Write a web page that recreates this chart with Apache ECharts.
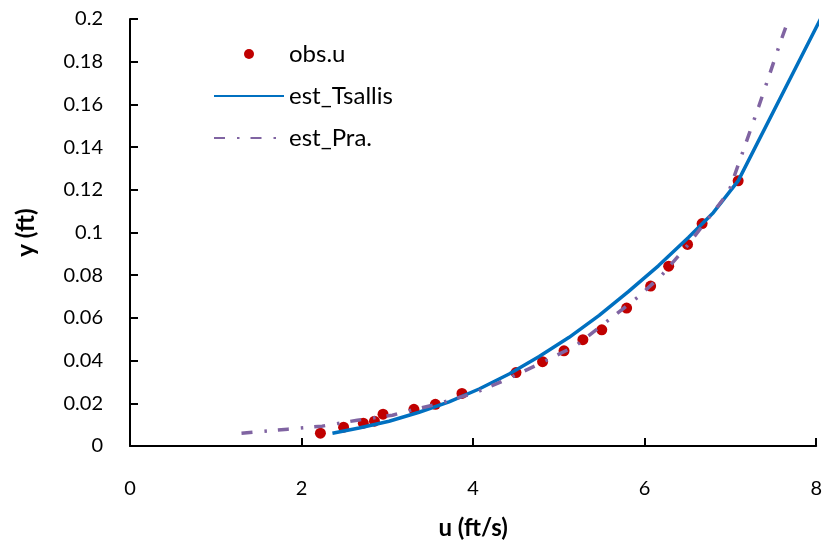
<!DOCTYPE html>
<html>
<head>
<meta charset="utf-8">
<script src="https://cdn.jsdelivr.net/npm/echarts@6/dist/echarts.min.js"></script>
<style>
  html, body { margin: 0; padding: 0; background: #fff; }
  #chart { width: 825px; height: 545px; }
</style>
</head>
<body>
<div id="chart"></div>
<script>
// Observed velocity profile: u (ft/s) against depth y (ft)
const obsU = [2.22, 2.49, 2.72, 2.85, 2.95, 3.31, 3.56, 3.87, 4.50, 4.81, 5.06, 5.28, 5.50, 5.79, 6.07, 6.28, 6.50, 6.67, 7.09];
const obsY = [0.0060, 0.0088, 0.0107, 0.0116, 0.0149, 0.0172, 0.0195, 0.0246, 0.0344, 0.0395, 0.0446, 0.0498, 0.0544, 0.0646, 0.0749, 0.0842, 0.0944, 0.1042, 0.1242];

// Tsallis entropy estimate
const tsallisU = [2.36, 2.67, 3.02, 3.37, 3.72, 4.07, 4.42, 4.77, 5.12, 5.47, 5.81, 6.16, 6.51, 6.80, 7.09, 8.05];
const tsallisY = [0.0060, 0.0084, 0.0116, 0.0158, 0.0207, 0.0267, 0.0337, 0.0419, 0.0509, 0.0612, 0.0723, 0.0844, 0.0977, 0.1093, 0.1242, 0.2000];

// Prandtl estimate
const praU = [1.30, 1.84, 2.24, 2.65, 3.06, 3.20, 3.57, 4.03, 4.38, 4.80, 5.20, 5.58, 5.93, 6.20, 6.50, 6.74, 6.98, 7.33, 7.59, 7.68];
const praY = [0.0060, 0.0079, 0.0093, 0.0121, 0.0144, 0.0160, 0.0195, 0.0250, 0.0310, 0.0390, 0.0470, 0.0590, 0.0700, 0.0800, 0.0940, 0.1065, 0.1190, 0.1590, 0.1900, 0.2000];

const xTicks = [0, 8, 2];        // min, max, step
const yTicks = [0, 0.2, 0.02];   // min, max, step

const pairs = (xs, ys) => xs.map((x, i) => [x, ys[i]]);

const FONT = 'Lato, "Open Sans", sans-serif';

const chart = echarts.init(document.getElementById('chart'), null, { renderer: 'canvas' });

chart.setOption({
  animation: false,
  backgroundColor: '#ffffff',
  textStyle: { fontFamily: FONT },
  grid: { left: 130, right: 7, top: 19, bottom: 96, containLabel: false },
  legend: {
    orient: 'vertical',
    left: 208,
    top: 37,
    itemWidth: 70,
    itemHeight: 10,
    itemGap: 18,
    textStyle: { fontFamily: FONT, fontSize: 24, color: '#000' },
    data: [
      { name: 'obs.u' },
      { name: 'est_Tsallis', itemStyle: { opacity: 0 } },
      { name: 'est_Pra.', itemStyle: { opacity: 0 } }
    ]
  },
  xAxis: {
    type: 'value',
    min: xTicks[0], max: xTicks[1], interval: xTicks[2],
    name: 'u (ft/s)',
    nameLocation: 'middle',
    nameGap: 70,
    nameTextStyle: { fontFamily: FONT, fontSize: 24, fontWeight: 'bold', color: '#000' },
    axisLine: { show: true, onZero: false, lineStyle: { color: '#000', width: 2 } },
    axisTick: { show: true, inside: true, length: 8, lineStyle: { color: '#000', width: 2 } },
    axisLabel: { margin: 33, fontSize: 20, color: '#000', fontFamily: FONT },
    splitLine: { show: false }
  },
  yAxis: {
    type: 'value',
    min: yTicks[0], max: yTicks[1], interval: yTicks[2],
    name: 'y (ft)',
    nameLocation: 'middle',
    nameGap: 92,
    nameRotate: 90,
    nameTextStyle: { fontFamily: FONT, fontSize: 24, fontWeight: 'bold', color: '#000' },
    axisLine: { show: true, onZero: false, lineStyle: { color: '#000', width: 2 } },
    axisTick: { show: true, inside: true, length: 8, lineStyle: { color: '#000', width: 2 } },
    axisLabel: {
      margin: 27, fontSize: 20, color: '#000', fontFamily: FONT,
      formatter: v => String(+v.toFixed(2))
    },
    splitLine: { show: false }
  },
  series: [
    {
      name: 'obs.u',
      type: 'scatter',
      data: pairs(obsU, obsY),
      symbol: 'circle',
      symbolSize: 11,
      itemStyle: { color: '#C00000', opacity: 1 },
      z: 2
    },
    {
      name: 'est_Tsallis',
      type: 'line',
      data: pairs(tsallisU, tsallisY),
      showSymbol: false,
      symbol: 'none',
      clip: true,
      lineStyle: { color: '#0070C0', width: 3.5 },
      itemStyle: { color: '#0070C0' },
      z: 3
    },
    {
      name: 'est_Pra.',
      type: 'line',
      data: pairs(praU, praY),
      showSymbol: false,
      symbol: 'none',
      clip: true,
      lineStyle: { color: '#8064A2', width: 3.5, type: [11, 12, 2.5, 11], cap: 'butt' },
      itemStyle: { color: '#8064A2' },
      z: 4
    }
  ]
});
</script>
</body>
</html>
